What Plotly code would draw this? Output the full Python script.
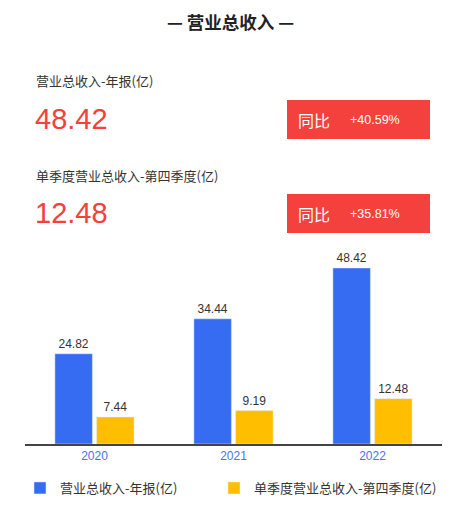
import plotly.graph_objects as go

years = ["2020", "2021", "2022"]
annual = [24.82, 34.44, 48.42]
q4 = [7.44, 9.19, 12.48]
series_names = ["营业总收入-年报(亿)", "单季度营业总收入-第四季度(亿)"]
title_text = "— 营业总收入 —"
kpi_annual = "48.42"
kpi_q4 = "12.48"
yoy_annual = "+40.59%"
yoy_q4 = "+35.81%"

W, H = 460, 505
L, R, T, B = 25, 442, 250, 444
FONT = "Liberation Sans, Noto Sans CJK SC, sans-serif"
CJK = "Noto Sans CJK SC, sans-serif"

def px_x(x):
    return (x - L) / (R - L)

def px_y(y):
    return (B - y) / (B - T)

fig = go.Figure()
fig.add_trace(go.Bar(x=years, y=annual, name=series_names[0],
                     marker=dict(color="#356cf2"),
                     text=[f"{v:.2f}" for v in annual], textposition="outside",
                     textfont=dict(color="#333333", size=12, family=FONT),
                     cliponaxis=False, legend="legend"))
fig.add_trace(go.Bar(x=years, y=q4, name=series_names[1],
                     marker=dict(color="#ffbf00"),
                     text=[f"{v:.2f}" for v in q4], textposition="outside",
                     textfont=dict(color="#333333", size=12, family=FONT),
                     cliponaxis=False, legend="legend2"))

annotations = []
shapes = []

def ann(x, y, text, size, color, xanchor="left", family=CJK, bold=False):
    if bold:
        text = f"<b>{text}</b>"
    annotations.append(dict(x=px_x(x), y=px_y(y), xref="paper", yref="paper",
                            text=text, showarrow=False, xanchor=xanchor, yanchor="middle",
                            font=dict(size=size, color=color, family=family)))

ann(230, 21, title_text, 17.5, "#222222", xanchor="center", bold=True)
ann(34, 80, series_names[0], 13, "#333333")
ann(33, 119, kpi_annual, 29, "#f5403d", family="Liberation Sans, sans-serif")
ann(34, 175, series_names[1], 13, "#333333")
ann(33, 213, kpi_q4, 29, "#f5403d", family="Liberation Sans, sans-serif")

for (y0, y1, val) in [(100, 139, yoy_annual), (194, 233, yoy_q4)]:
    shapes.append(dict(type="rect", xref="paper", yref="paper",
                       x0=px_x(287), x1=px_x(430), y0=px_y(y1), y1=px_y(y0),
                       fillcolor="#f5413d", line=dict(width=0), layer="above"))
    ann(296, (y0 + y1) / 2, "同比", 16, "#ffffff")
    ann(348, (y0 + y1) / 2, val, 12.5, "#ffffff", family="Liberation Sans, sans-serif")

legend_common = dict(orientation="h", xanchor="left", yanchor="middle",
                     font=dict(size=13, color="#333333", family=CJK),
                     itemwidth=30, bgcolor="rgba(0,0,0,0)")

fig.update_layout(
    width=W, height=H,
    margin=dict(l=L, r=W - R, t=T, b=H - B, autoexpand=False),
    paper_bgcolor="white", plot_bgcolor="white",
    barmode="group", bargap=0.40, bargroupgap=0.1,
    showlegend=True,
    legend=dict(x=px_x(20), y=px_y(488), **legend_common),
    legend2=dict(x=px_x(214), y=px_y(488), **legend_common),
    xaxis=dict(showline=True, linecolor="#444444", linewidth=1.5, ticks="",
               tickfont=dict(color="#4a72f0", size=12, family=FONT), showgrid=False),
    yaxis=dict(range=[0, (B - T) / 3.635], visible=False, showgrid=False),
    annotations=annotations, shapes=shapes,
    font=dict(family=FONT),
)

fig.write_html("out.html", config={"displayModeBar": False},
               post_script="document.body.style.margin='0';document.body.style.padding='0';document.body.style.overflow='hidden';")
